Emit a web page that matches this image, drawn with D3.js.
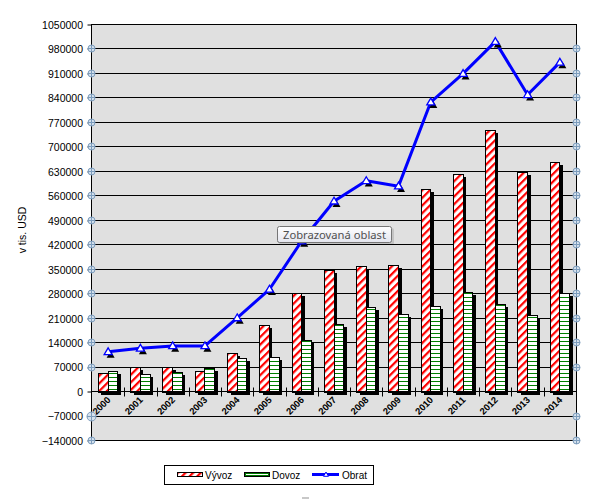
<!DOCTYPE html>
<html>
<head>
<meta charset="utf-8">
<script src="https://cdn.jsdelivr.net/npm/d3@7"></script>
<style>
html,body{margin:0;padding:0;background:#fff;}
svg{display:block;}
</style>
</head>
<body>
<svg id="chart" width="615" height="499"></svg>
<script>
// ---- data ----
const years = ['2000','2001','2002','2003','2004','2005','2006','2007','2008','2009','2010','2011','2012','2013','2014'];
const vyvoz = [54000, 72500, 72500, 61000, 112500, 193000, 284000, 350000, 361500, 364500, 582000, 625000, 750500, 630500, 659000];
const dovoz = [61000, 52500, 58500, 67500, 98500, 101000, 149000, 194500, 244000, 223000, 247500, 286000, 252000, 220000, 283500];
const obrat = [115000, 125000, 132000, 132000, 212000, 294000, 432000, 546000, 604500, 589000, 829500, 911000, 1002500, 850500, 943000];
const yTicks = d3.range(-140000, 1050001, 70000);
const seriesNames = ['Vývoz', 'Dovoz', 'Obrat'];
const yTitle = 'v tis. USD';
const tooltipText = 'Zobrazovaná oblast';

// ---- layout ----
const L = 92, R = 576, T = 25, B = 441;
const svg = d3.select('#chart');
const font = '"Liberation Sans", Arial, sans-serif';

const defs = svg.append('defs');
const hatch = defs.append('pattern').attr('id','hatch').attr('patternUnits','userSpaceOnUse')
  .attr('width',5.4).attr('height',5.4).attr('patternTransform','rotate(45)');
hatch.append('rect').attr('width',5.4).attr('height',5.4).attr('fill','#fff');
hatch.append('rect').attr('width',2.2).attr('height',5.4).attr('fill','#ff0000');
const hor = defs.append('pattern').attr('id','hor').attr('patternUnits','userSpaceOnUse')
  .attr('width',8).attr('height',4);
hor.append('rect').attr('width',8).attr('height',4).attr('fill','#fff');
hor.append('rect').attr('y',1).attr('width',8).attr('height',1).attr('fill','#008000');
const grad = defs.append('linearGradient').attr('id','tipg').attr('x1',0).attr('y1',0).attr('x2',0).attr('y2',1);
grad.append('stop').attr('offset','0%').attr('stop-color','#ffffff');
grad.append('stop').attr('offset','100%').attr('stop-color','#e4e5ee');

const x = d3.scaleBand().domain(years).range([L, R]).padding(0);
const step = x.step();
const xs = d3.scaleBand().domain(['Vývoz','Dovoz']).range([step*0.2, step*0.8]).padding(0);
const y = d3.scaleLinear().domain([-140000, 1050000]).range([B, T]);
const py = v => Math.round(y(v)) - 0.5;

// plot background
svg.append('rect').attr('x', L - 0.5).attr('y', T - 0.5).attr('width', R - L + 1).attr('height', B - T)
  .attr('fill', '#e0e0e0');

// gridlines
svg.append('g').selectAll('line').data(yTicks).join('line')
  .attr('x1', L - 0.5).attr('x2', R + 0.5)
  .attr('y1', d => py(d)).attr('y2', d => py(d))
  .attr('stroke', '#000').attr('stroke-width', 1);

// border
svg.append('rect').attr('x', L - 0.5).attr('y', py(1050000)).attr('width', R - L + 1)
  .attr('height', py(-140000) - py(1050000))
  .attr('fill', 'none').attr('stroke', '#000');

// y axis (left) with d3 axis
const yAxis = d3.axisLeft(y).tickValues(yTicks).tickSize(4).tickPadding(5).tickFormat(d3.format('d'));
const ga = svg.append('g').attr('transform', `translate(${L - 0.5},0)`).call(yAxis);
ga.select('.domain').remove();
ga.selectAll('.tick line').attr('stroke', '#000').attr('transform', d => `translate(0,${py(d) - y(d)})`);
ga.selectAll('.tick text').attr('font-family', font).attr('font-size', '10.5px').attr('fill', '#000')
  .attr('x', -8.5);

// bars
const data = years.map((yr, i) => ({yr, v: vyvoz[i], d: dovoz[i], o: obrat[i]}));
const y0 = Math.round(y(0));
const barsG = svg.append('g');
const bw = xs.bandwidth();
const rows = [];
data.forEach(d => {
  rows.push({key: 'Vývoz', yr: d.yr, val: d.v});
  rows.push({key: 'Dovoz', yr: d.yr, val: d.d});
});
barsG.selectAll('rect.sh').data(rows).join('rect').attr('class','sh')
  .attr('x', d => x(d.yr) + xs(d.key) + 3)
  .attr('y', d => Math.round(y(d.val)) + 3)
  .attr('width', bw)
  .attr('height', d => y0 - Math.round(y(d.val)))
  .attr('fill', '#000').attr('shape-rendering','crispEdges');
barsG.selectAll('rect.bar').data(rows).join('rect').attr('class','bar')
  .attr('x', d => x(d.yr) + xs(d.key))
  .attr('y', d => Math.round(y(d.val)))
  .attr('width', bw)
  .attr('height', d => y0 - Math.round(y(d.val)))
  .attr('fill', d => d.key === 'Vývoz' ? 'url(#hatch)' : 'url(#hor)')
  .attr('stroke', '#000').attr('stroke-width', 1).attr('shape-rendering','crispEdges');

// category axis line at 0 with cross ticks
svg.append('line').attr('x1', L - 0.5).attr('x2', R + 0.5).attr('y1', py(0)).attr('y2', py(0)).attr('stroke', '#000');
svg.append('g').selectAll('line').data(years.slice(1)).join('line')
  .attr('x1', d => Math.round(x(d)) + 0.5).attr('x2', d => Math.round(x(d)) + 0.5)
  .attr('y1', py(0) - 4).attr('y2', py(0) + 5).attr('stroke', '#000');

// category labels
svg.append('g').selectAll('text').data(years).join('text')
  .attr('transform', d => `translate(${x(d) + step / 2 + 3},${py(0) + 9}) rotate(-45)`)
  .attr('text-anchor', 'end')
  .attr('font-family', font).attr('font-size', '9.4px').attr('font-weight', 'bold')
  .text(d => d);

// line
const cx = d => x(d.yr) + step / 2;
svg.append('path').datum(data)
  .attr('d', d3.line().x(cx).y(d => y(d.o)))
  .attr('fill', 'none').attr('stroke', '#0000ff').attr('stroke-width', 3).attr('stroke-linejoin', 'round');
const tri = 'M0,-4 L4,2.8 L-4,2.8 Z';
svg.append('g').selectAll('path').data(data).join('path')
  .attr('d', tri).attr('transform', d => `translate(${cx(d) + 2.5},${y(d.o) + 3})`)
  .attr('fill', '#000');
svg.append('g').selectAll('path').data(data).join('path')
  .attr('d', tri).attr('transform', d => `translate(${cx(d)},${y(d.o)})`)
  .attr('fill', '#fff').attr('stroke', '#0000ff').attr('stroke-width', 1.3);

// handle markers on axes
const handleTicks = yTicks.filter(t => t !== 0 && t !== 1050000);
function handle(g, hx, hy, r) {
  g.append('circle').attr('cx', hx).attr('cy', hy).attr('r', r).attr('fill', '#d6e2ee').attr('stroke', '#7b9bbb').attr('stroke-width', 1);
  g.append('line').attr('x1', hx - r).attr('x2', hx + r).attr('y1', hy).attr('y2', hy).attr('stroke', '#7b9bbb');
  g.append('line').attr('x1', hx).attr('x2', hx).attr('y1', hy - r).attr('y2', hy + r).attr('stroke', '#7b9bbb');
}
const hg = svg.append('g');
handleTicks.forEach(t => {
  handle(hg, L - 0.5, py(t), t === -70000 ? 4.5 : 3.5);
  handle(hg, R + 0.5, py(t), 3.5);
});

// y title
svg.append('text').attr('transform', `translate(26,${(T + B) / 2 - 3}) rotate(-90)`)
  .attr('text-anchor', 'middle').attr('font-family', font).attr('font-size', '10.5px').text(yTitle);

// tooltip
svg.append('rect').attr('x', 279).attr('y', 228).attr('width', 115).attr('height', 17).attr('rx', 2)
  .attr('fill', '#000').attr('opacity', 0.12);
svg.append('rect').attr('x', 277.5).attr('y', 226.5).attr('width', 114).attr('height', 16).attr('rx', 2)
  .attr('fill', 'url(#tipg)').attr('stroke', '#767676');
svg.append('text').attr('x', 283).attr('y', 238.5).attr('font-family', '"Noto Sans", "Open Sans", sans-serif')
  .attr('font-size', '11.5px').attr('fill', '#4f4f4f')
  .attr('textLength', 103).attr('lengthAdjust', 'spacingAndGlyphs').text(tooltipText);

// legend
const lg = svg.append('g');
lg.append('rect').attr('x', 164.5).attr('y', 465.5).attr('width', 209).attr('height', 19)
  .attr('fill', '#fff').attr('stroke', '#000');
lg.append('rect').attr('x', 177.5).attr('y', 472.5).attr('width', 25).attr('height', 4)
  .attr('fill', 'url(#hatch)').attr('stroke', '#000');
lg.append('rect').attr('x', 244.5).attr('y', 472.5).attr('width', 25).attr('height', 4)
  .attr('fill', '#fff').attr('stroke', '#000');
lg.append('rect').attr('x', 245.5).attr('y', 473.5).attr('width', 23).attr('height', 2)
  .attr('fill', 'none').attr('stroke', '#008000').attr('stroke-width', 1);
lg.append('line').attr('x1', 312).attr('x2', 339).attr('y1', 474.5).attr('y2', 474.5)
  .attr('stroke', '#0000ff').attr('stroke-width', 3);
lg.append('path').attr('d', 'M0,-2.5 L2.5,1.8 L-2.5,1.8 Z').attr('transform', 'translate(326,474.5)')
  .attr('fill', '#fff').attr('stroke', '#0000ff').attr('stroke-width', 1);
const lx = [205, 272, 342];
seriesNames.forEach((n, i) => {
  lg.append('text').attr('x', lx[i]).attr('y', 478.5).attr('font-family', font).attr('font-size', '10px').text(n);
});

// small mark at the bottom
svg.append('rect').attr('x', 302).attr('y', 497).attr('width', 7).attr('height', 2).attr('fill', '#c8c8c8');
</script>
</body>
</html>
